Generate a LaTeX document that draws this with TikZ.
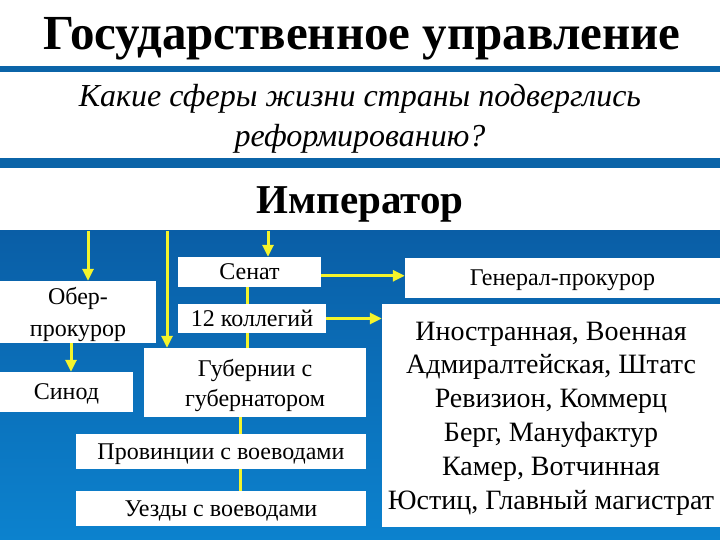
\documentclass[tikz,border=0pt]{standalone}
\usepackage{fontspec}
\setmainfont{Liberation Serif}
\usetikzlibrary{arrows.meta}
\definecolor{bgtop}{HTML}{0A5EA6}
\definecolor{bgbot}{HTML}{0C82CE}
\definecolor{stripe}{HTML}{0B64A8}
\definecolor{yl}{HTML}{F4F42C}
\tikzset{
  box/.style={fill=white, inner sep=0pt, align=center, text depth=0pt, font=\fontsize{24}{31}\selectfont},
  yline/.style={draw=yl, line width=3pt},
  yarrow/.style={yline, -{Triangle[length=12pt,width=11pt]}},
}
\begin{document}
\begin{tikzpicture}[x=1pt,y=-1pt]
\useasboundingbox (0,0) rectangle (720,540);
\fill[white] (0,0) rectangle (720,540);
\fill[stripe] (0,66) rectangle (720,72);
\fill[stripe] (0,158) rectangle (720,168);
\shade[top color=bgtop, bottom color=bgbot] (0,231) rectangle (720,540);

\node[anchor=base, font=\fontsize{49}{49}\selectfont\bfseries] (title) at (362,50) {Государственное управление};
\node[anchor=base, font=\fontsize{32}{40}\selectfont\itshape] (q1) at (360,107) {Какие сферы жизни страны подверглись};
\node[anchor=base, font=\fontsize{32}{40}\selectfont\itshape] (q2) at (360,147) {реформированию?};
\node[anchor=base, font=\fontsize{41}{41}\selectfont\bfseries] (imp) at (360,214) {Император};

\node[box, minimum width=143pt, minimum height=30pt] (senat) at (249.5,272) {Сенат};
\node[box, minimum width=148pt, minimum height=29pt] (koll) at (252,318.5) {12 коллегий};
\node[box, minimum width=156pt, minimum height=62pt, font=\fontsize{24}{32}\selectfont] (ober) at (78,312) {Обер-\\прокурор};
\node[box, minimum width=133pt, minimum height=40pt] (sinod) at (66.5,392) {Синод};
\node[box, minimum width=222pt, minimum height=69pt, font=\fontsize{24}{30}\selectfont] (gub) at (255,382.5) {Губернии с\\губернатором};
\node[box, minimum width=290pt, minimum height=35pt] (prov) at (221,451.5) {Провинции с воеводами};
\node[box, minimum width=290pt, minimum height=35pt] (uezd) at (221,508.5) {Уезды с воеводами};
\node[box, minimum width=315pt, minimum height=40pt] (genpr) at (562.5,278) {Генерал-прокурор};
\node[box, minimum width=338pt, minimum height=223pt, font=\fontsize{28}{33.8}\selectfont] (big) at (551,415.5)
  {Иностранная, Военная\\Адмиралтейская, Штатс\\Ревизион, Коммерц\\Берг, Мануфактур\\Камер, Вотчинная\\Юстиц, Главный магистрат};

\coordinate (t1) at (88,231);
\coordinate (t2) at (167,231);
\coordinate (t3) at (268,231);
\coordinate (cx) at (240,0);
\coordinate (sx) at (71,0);
\coordinate (vx) at (247,0);

\draw[yarrow] (t1) -- (t1 |- ober.north);
\draw[yarrow] (t2) -- (t2 |- gub.north);
\draw[yarrow] (t3) -- (t3 |- senat.north);
\draw[yarrow] (senat.-3) -- (senat.-3 -| genpr.west);
\draw[yarrow] (koll.east) -- (koll.east -| big.west);
\draw[yline] (senat.south -| vx) -- (koll.north -| vx);
\draw[yline] (koll.south -| vx) -- (gub.north -| vx);
\draw[yarrow] (ober.south -| sx) -- (sinod.north -| sx);
\draw[yline] (gub.south -| cx) -- (prov.north -| cx);
\draw[yline] (prov.south -| cx) -- (uezd.north -| cx);
\end{tikzpicture}
\end{document}
